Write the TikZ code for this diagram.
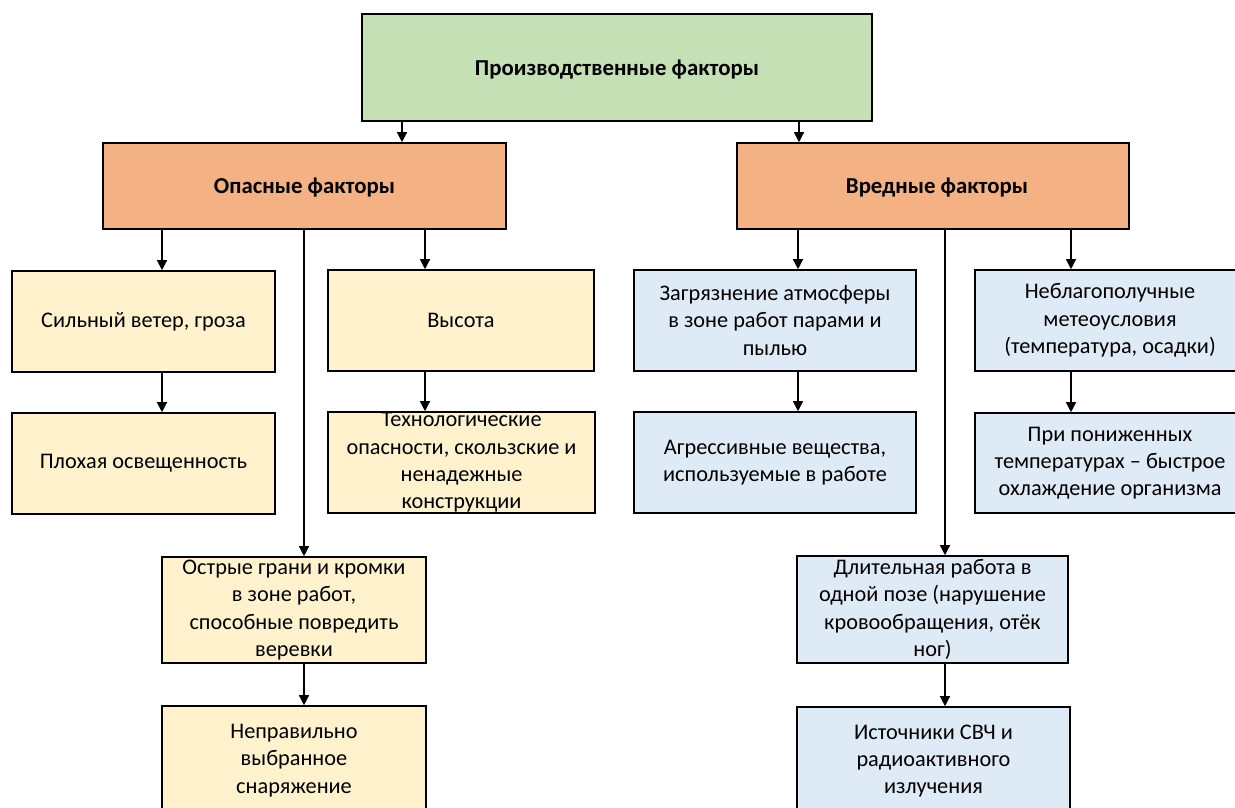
\documentclass[tikz,border=0pt]{standalone}
\usepackage{fontspec}
\setmainfont{Carlito}
\usetikzlibrary{arrows.meta}
\definecolor{cgreen}{HTML}{C5E0B4}
\definecolor{corange}{HTML}{F4B183}
\definecolor{cyellow}{HTML}{FFF2CC}
\definecolor{cblue}{HTML}{DEEBF7}
\begin{document}
\begin{tikzpicture}[x=1pt,y=-1pt,
  box/.style={draw=black, line width=1.6pt, inner sep=0pt, minimum width=#1},
  box/.default=100pt,
  txt/.style={align=center, font=\fontsize{22.3}{27.3}\selectfont, inner sep=0pt, text=black},
  head/.style={align=center, font=\bfseries\fontsize{22.8}{26}\selectfont, inner sep=0pt},
  conn/.style={line width=1.3pt, -{Triangle[width=10pt,length=10pt]}},
  bar/.style={line width=1.3pt}]
\useasboundingbox (0,0) rectangle (1235,808);
\clip (0,0) rectangle (1235,808);
% boxes
\node[box=510pt, minimum height=107pt, fill=cgreen] (top) at (617,67.5) {};
\node[head] (topt) at (617,70) {Производственные факторы};
\node[box=403pt, minimum height=86pt, fill=corange] (opas) at (304.5,186) {};
\node[head] (opast) at (304.5,188) {Опасные факторы};
\node[box=392pt, minimum height=86pt, fill=corange] (vred) at (933,186) {};
\node[head] (vredt) at (937,188) {Вредные факторы};
% left tree
\node[box=263pt, minimum height=101pt, fill=cyellow] (sil) at (143.5,321.5) {};
\node[txt] (silt) at (sil) {Сильный ветер, гроза};
\node[box=266pt, minimum height=101pt, fill=cyellow] (vys) at (461,320.5) {};
\node[txt] (vyst) at (vys) {Высота};
\node[box=263pt, minimum height=101pt, fill=cyellow] (plo) at (143.5,463.5) {};
\node[txt] (plot) at (plo) {Плохая освещенность};
\node[box=267pt, minimum height=101pt, fill=cyellow] (teh) at (461.5,462.5) {};
\node[txt] (teht) at (teh) {Технологические\\опасности, скользские и\\ненадежные\\конструкции};
\node[box=264pt, minimum height=106pt, fill=cyellow] (ost) at (294,610) {};
\node[txt] (ostt) at (ost) {Острые грани и кромки\\в зоне работ,\\способные повредить\\веревки};
\node[box=264pt, minimum height=109pt, fill=cyellow] (nep) at (294,760.5) {};
\node[txt] (nept) at (nep) {Неправильно\\выбранное\\снаряжение};
% right tree
\node[box=282pt, minimum height=101pt, fill=cblue] (zag) at (775,320.5) {};
\node[txt] (zagt) at (zag) {Загрязнение атмосферы\\в зоне работ парами и\\пылью};
\node[box=270pt, minimum height=101pt, fill=cblue] (neb) at (1110,320.5) {};
\node[txt] (nebt) at (neb) {Неблагополучные\\метеоусловия\\(температура, осадки)};
\node[box=282pt, minimum height=101pt, fill=cblue] (agr) at (775,462.5) {};
\node[txt] (agrt) at (agr) {Агрессивные вещества,\\используемые в работе};
\node[box=270pt, minimum height=100pt, fill=cblue] (pri) at (1110,463) {};
\node[txt] (prit) at (pri) {При пониженных\\температурах – быстрое\\охлаждение организма};
\node[box=271pt, minimum height=107pt, fill=cblue] (dli) at (932.5,609.5) {};
\node[txt] (dlit) at (dli) {Длительная работа в\\одной позе (нарушение\\кровообращения, отёк\\ног)};
\node[box=273pt, minimum height=108pt, fill=cblue] (ist) at (933.5,761) {};
\node[txt] (istt) at (ist) {Источники СВЧ и\\радиоактивного\\излучения};
% x positions of connectors
\coordinate (xa) at (402,0);
\coordinate (xb) at (799,0);
\coordinate (xc) at (162,0);
\coordinate (xd) at (425,0);
\coordinate (xe) at (304,0);
\coordinate (xf) at (798,0);
\coordinate (xg) at (1071,0);
\coordinate (xh) at (945,0);
% connectors
\draw[conn] (top.south -| xa) -- (opas.north -| xa);
\draw[conn] (top.south -| xb) -- (vred.north -| xb);
\draw[conn] (opas.south -| xc) -- (sil.north -| xc);
\draw[conn] (opas.south -| xd) -- (vys.north -| xd);
\draw[conn] (opas.south -| xe) -- (ost.north -| xe);
\draw[conn] (sil.south -| xc) -- (plo.north -| xc);
\draw[conn] (vys.south -| xd) -- (teh.north -| xd);
\draw[conn] (ost.south -| xe) -- (nep.north -| xe);
\draw[conn] (vred.south -| xf) -- (zag.north -| xf);
\draw[conn] (vred.south -| xg) -- (neb.north -| xg);
\draw[conn] (vred.south -| xh) -- (dli.north -| xh);
\draw[conn] (zag.south -| xf) -- (agr.north -| xf);
\draw[conn] (neb.south -| xg) -- (pri.north -| xg);
\draw[conn] (dli.south -| xh) -- (ist.north -| xh);
\end{tikzpicture}
\end{document}
